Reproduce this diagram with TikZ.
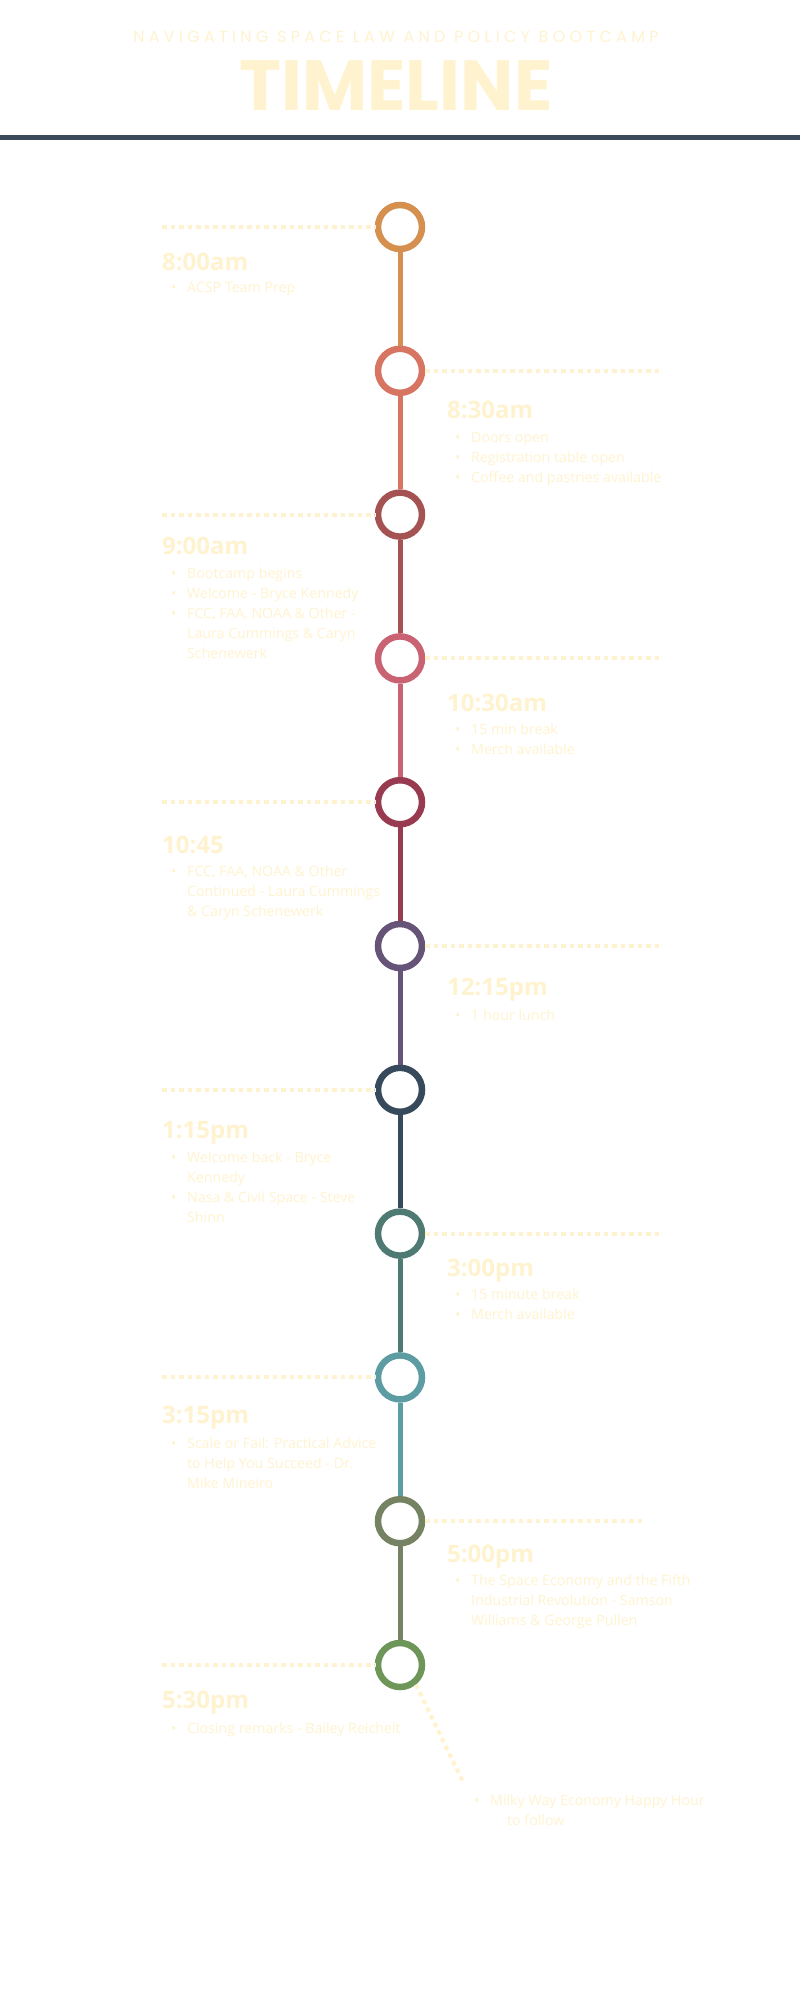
\documentclass[tikz,border=0pt]{standalone}
\usepackage{fontspec}
\setmainfont{Open Sans}
\newfontfamily\titlefont{Poppins}
\newfontfamily\headfont[LetterSpace=27]{Poppins}
\definecolor{cream}{HTML}{FFF3CF}
\definecolor{barcol}{HTML}{3A4A5B}
\definecolor{ka}{HTML}{D58F4E}
\definecolor{kb}{HTML}{D87562}
\definecolor{kc}{HTML}{A55252}
\definecolor{kd}{HTML}{C96272}
\definecolor{ke}{HTML}{983A50}
\definecolor{kf}{HTML}{665478}
\definecolor{kg}{HTML}{364A5C}
\definecolor{kh}{HTML}{4F7A73}
\definecolor{ki}{HTML}{5E9CA4}
\definecolor{kj}{HTML}{758363}
\definecolor{kk}{HTML}{6E9659}
\newcommand{\bul}[1]{\makebox[16pt][l]{\textbullet}#1}
\newcommand{\cnt}[1]{\hspace*{16pt}#1}
\newcommand{\itemlist}[1]{\begin{tabular}[t]{@{}l@{}}#1\end{tabular}}
\begin{document}
\begin{tikzpicture}[x=1pt,y=-1pt,
  ring/.style={circle, draw=#1, line width=6.5pt, fill=white, minimum size=44pt, inner sep=0pt},
  seg/.style={draw=#1, line width=5pt},
  dotline/.style={draw=cream, line width=4pt, dash pattern=on 4.5pt off 4pt},
  timelab/.style={anchor=base west, inner sep=0pt, text=cream, font=\fontsize{24}{28}\selectfont\bfseries},
  items/.style={anchor=base west, inner sep=0pt, text=cream, font=\fontsize{14.2}{20}\selectfont}]
\useasboundingbox (0,0) rectangle (800,2000);
\fill[white] (0,0) rectangle (800,2000);
% header
\node[anchor=base, inner sep=0pt, text=cream, font=\headfont\fontsize{16}{18}\selectfont] (head) at (396,42) {NAVIGATING SPACE LAW AND POLICY BOOTCAMP};
\node[anchor=base, inner sep=0pt, text=cream, font=\titlefont\bfseries\fontsize{71}{74}\selectfont] (title) at (396,110) {TIMELINE};
\fill[barcol] (0,135) rectangle (800,139.5);
% circles
\node[ring=ka] (c1) at (400,227) {};
\node[ring=kb] (c2) at (400,370.8) {};
\node[ring=kc] (c3) at (400,514.6) {};
\node[ring=kd] (c4) at (400,658.4) {};
\node[ring=ke] (c5) at (400,802.2) {};
\node[ring=kf] (c6) at (400,946) {};
\node[ring=kg] (c7) at (400,1089.8) {};
\node[ring=kh] (c8) at (400,1233.6) {};
\node[ring=ki] (c9) at (400,1377.4) {};
\node[ring=kj] (c10) at (400,1521.2) {};
\node[ring=kk] (c11) at (400,1665) {};
% segments
\draw[seg=ka] (c1.south) -- (c2.north);
\draw[seg=kb] (c2.south) -- (c3.north);
\draw[seg=kc] (c3.south) -- (c4.north);
\draw[seg=kd] (c4.south) -- (c5.north);
\draw[seg=ke] (c5.south) -- (c6.north);
\draw[seg=kf] (c6.south) -- (c7.north);
\draw[seg=kg] (c7.south) -- (c8.north);
\draw[seg=kh] (c8.south) -- (c9.north);
\draw[seg=ki] (c9.south) -- (c10.north);
\draw[seg=kj] (c10.south) -- (c11.north);
% dotted leaders
\coordinate (l1) at (162,227);
\coordinate (r2) at (662,370.8);
\coordinate (l3) at (162,514.6);
\coordinate (r4) at (662,658.4);
\coordinate (l5) at (162,802.2);
\coordinate (r6) at (662,946);
\coordinate (l7) at (162,1089.8);
\coordinate (r8) at (662,1233.6);
\coordinate (l9) at (162,1377.4);
\coordinate (r10) at (645,1521.2);
\coordinate (l11) at (162,1665);
\coordinate (d12) at (463,1782);
\draw[dotline] (l1) -- (c1.west);
\draw[dotline] (c2.east) -- (r2);
\draw[dotline] (l3) -- (c3.west);
\draw[dotline] (c4.east) -- (r4);
\draw[dotline] (l5) -- (c5.west);
\draw[dotline] (c6.east) -- (r6);
\draw[dotline] (l7) -- (c7.west);
\draw[dotline] (c8.east) -- (r8);
\draw[dotline] (l9) -- (c9.west);
\draw[dotline] (c10.east) -- (r10);
\draw[dotline] (l11) -- (c11.west);
\draw[dotline] (c11.-51) -- (d12);
% events
\node[timelab] (t1) at (162,270) {8:00am};
\node[items] (b1) at (171,292) {\itemlist{\bul{ACSP Team Prep}}};
\node[timelab] (t2) at (447,418) {8:30am};
\node[items] (b2) at (455,442) {\itemlist{\bul{Doors open}\\\bul{Registration table open}\\\bul{Coffee and pastries available}}};
\node[timelab] (t3) at (162,554) {9:00am};
\node[items] (b3) at (171,578) {\itemlist{\bul{Bootcamp begins}\\\bul{Welcome - Bryce Kennedy}\\\bul{FCC, FAA, NOAA \& Other -}\\\cnt{Laura Cummings \& Caryn}\\\cnt{Schenewerk}}};
\node[timelab] (t4) at (447,711) {10:30am};
\node[items] (b4) at (455,734) {\itemlist{\bul{15 min break}\\\bul{Merch available}}};
\node[timelab] (t5) at (162,853) {10:45};
\node[items] (b5) at (171,876) {\itemlist{\bul{FCC, FAA, NOAA \& Other}\\\cnt{Continued - Laura Cummings}\\\cnt{\& Caryn Schenewerk}}};
\node[timelab] (t6) at (447,995) {12:15pm};
\node[items] (b6) at (455,1020) {\itemlist{\bul{1 hour lunch}}};
\node[timelab] (t7) at (162,1138) {1:15pm};
\node[items] (b7) at (171,1162) {\itemlist{\bul{Welcome back - Bryce}\\\cnt{Kennedy}\\\bul{Nasa \& Civil Space - Steve}\\\cnt{Shinn}}};
\node[timelab] (t8) at (447,1276) {3:00pm};
\node[items] (b8) at (455,1299) {\itemlist{\bul{15 minute break}\\\bul{Merch available}}};
\node[timelab] (t9) at (162,1423) {3:15pm};
\node[items] (b9) at (171,1448) {\itemlist{\bul{Scale or Fail: Practical Advice}\\\cnt{to Help You Succeed - Dr.}\\\cnt{Mike Mineiro}}};
\node[timelab] (t10) at (447,1562) {5:00pm};
\node[items] (b10) at (455,1585) {\itemlist{\bul{The Space Economy and the Fifth}\\\cnt{Industrial Revolution - Samson}\\\cnt{Williams \& George Pullen}}};
\node[timelab] (t11) at (162,1708) {5:30pm};
\node[items] (b11) at (171,1733) {\itemlist{\bul{Closing remarks - Bailey Reichelt}}};
\node[items] (b12) at (474,1805) {\itemlist{\bul{Milky Way Economy Happy Hour}\\\hspace*{33pt}to follow}};
\end{tikzpicture}
\end{document}
